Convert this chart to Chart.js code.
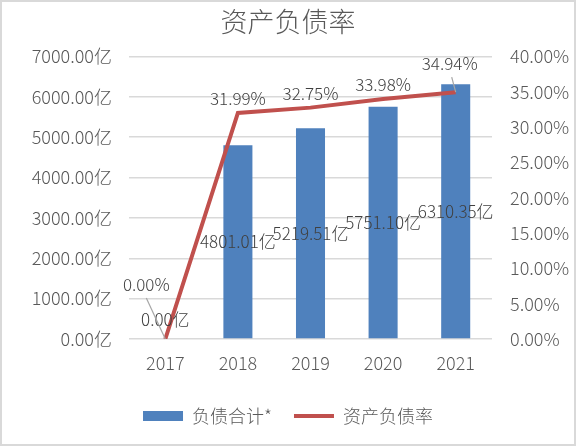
<!DOCTYPE html>
<html>
<head>
<meta charset="utf-8">
<script src="https://cdn.jsdelivr.net/npm/chart.js@4"></script>
<style>
  html, body { margin: 0; padding: 0; background: #fff; }
</style>
</head>
<body>
<canvas id="myChart" width="576" height="446"></canvas>
<script>
var years = ["2017", "2018", "2019", "2020", "2021"];
var debtTotal = [0, 4801.01, 5219.51, 5751.10, 6310.35];   // 亿
var debtRatio = [0, 31.99, 32.75, 33.98, 34.94];            // %
var leftTicks = [0, 1000, 2000, 3000, 4000, 5000, 6000, 7000];
var rightTicks = [0, 5, 10, 15, 20, 25, 30, 35, 40];

var FONT = "'Noto Sans CJK SC', 'Noto Sans', sans-serif";

// background + thin frame
var framePlugin = {
  id: "frame",
  beforeDraw: function (chart) {
    var ctx = chart.ctx;
    ctx.save();
    ctx.fillStyle = "#fff";
    ctx.fillRect(0, 0, chart.width, chart.height);
    ctx.strokeStyle = "#d9d9d9";
    ctx.lineWidth = 2;
    ctx.strokeRect(1, 1, chart.width - 2, chart.height - 2);
    ctx.restore();
  }
};

// value labels, like Excel's data labels
var labelPlugin = {
  id: "valueLabels",
  afterDatasetsDraw: function (chart) {
    var ctx = chart.ctx;
    ctx.save();
    ctx.font = "300 17px " + FONT;
    ctx.fillStyle = "#404040";
    ctx.textAlign = "center";
    ctx.textBaseline = "middle";

    var bars = chart.getDatasetMeta(0).data;
    bars.forEach(function (bar, i) {
      var y = (bar.y + bar.base) / 2;
      if (debtTotal[i] === 0) y = bar.base - 19;
      ctx.fillText(debtTotal[i].toFixed(2) + "亿", bar.x, y);
    });

    var pts = chart.getDatasetMeta(1).data;
    pts.forEach(function (p, i) {
      var lx = p.x, ly = p.y - 14;
      if (i === 0) {
        lx = p.x - 19; ly = p.y - 54;
        leader(ctx, lx, ly + 13, p.x, p.y);
      } else if (i === pts.length - 1) {
        lx = p.x - 6; ly = p.y - 29;
        leader(ctx, lx + 2, ly + 14, p.x, p.y);
      }
      ctx.fillStyle = "#404040";
      ctx.fillText(debtRatio[i].toFixed(2) + "%", lx, ly);
    });
    ctx.restore();
  }
};

function leader(ctx, x1, y1, x2, y2) {
  ctx.save();
  ctx.strokeStyle = "#a6a6a6";
  ctx.lineWidth = 1.2;
  ctx.beginPath();
  ctx.moveTo(x1, y1);
  ctx.lineTo(x2, y2);
  ctx.stroke();
  ctx.restore();
}

new Chart("myChart", {
  type: "bar",
  data: {
    labels: years,
    datasets: [
      {
        label: "负债合计*",
        data: debtTotal,
        backgroundColor: "#4f81bd",
        borderWidth: 0,
        yAxisID: "y",
        order: 1,
        pointStyle: "rect",
        barPercentage: 0.4,
        categoryPercentage: 1
      },
      {
        type: "line",
        label: "资产负债率",
        data: debtRatio,
        borderColor: "#c0504d",
        backgroundColor: "#c0504d",
        borderWidth: 4,
        pointRadius: 0,
        pointStyle: "line",
        tension: 0,
        yAxisID: "y1",
        order: 0
      }
    ]
  },
  options: {
    responsive: false,
    animation: false,
    devicePixelRatio: 1,
    layout: { padding: { left: 0, right: 0, top: 0, bottom: 11 } },
    plugins: {
      title: {
        display: true,
        text: "资产负债率",
        color: "#595959",
        font: { family: FONT, size: 27, weight: 300 },
        padding: { top: 6, bottom: 18 }
      },
      legend: {
        position: "bottom",
        labels: {
          usePointStyle: true,
          pointStyleWidth: 40,
          boxHeight: 10,
          padding: 22,
          color: "#595959",
          font: { family: FONT, size: 18, weight: 300 },
          sort: function (a, b) { return a.datasetIndex - b.datasetIndex; }
        }
      },
      tooltip: { enabled: false }
    },
    scales: {
      x: {
        grid: { display: false },
        border: { display: false },
        ticks: { color: "#595959", padding: 5, font: { family: FONT, size: 18, weight: 300 } },
        afterFit: function (s) { s.height = 46; }
      },
      y: {
        position: "left",
        min: 0,
        max: 7000,
        afterBuildTicks: function (s) { s.ticks = leftTicks.map(function (v) { return { value: v }; }); },
        grid: { color: "#d9d9d9", lineWidth: 1.5, drawTicks: false },
        border: { display: false },
        ticks: {
          color: "#595959",
          padding: 17,
          font: { family: FONT, size: 18, weight: 300 },
          callback: function (v) { return Number(v).toFixed(2) + "亿"; }
        },
        afterFit: function (s) { s.width = 129; }
      },
      y1: {
        position: "right",
        min: 0,
        max: 40,
        afterBuildTicks: function (s) { s.ticks = rightTicks.map(function (v) { return { value: v }; }); },
        grid: { display: false, drawTicks: false },
        border: { display: false },
        ticks: {
          color: "#595959",
          padding: 18,
          font: { family: FONT, size: 18, weight: 300 },
          callback: function (v) { return Number(v).toFixed(2) + "%"; }
        },
        afterFit: function (s) { s.width = 84; }
      }
    }
  },
  plugins: [framePlugin, labelPlugin]
});
</script>
</body>
</html>
